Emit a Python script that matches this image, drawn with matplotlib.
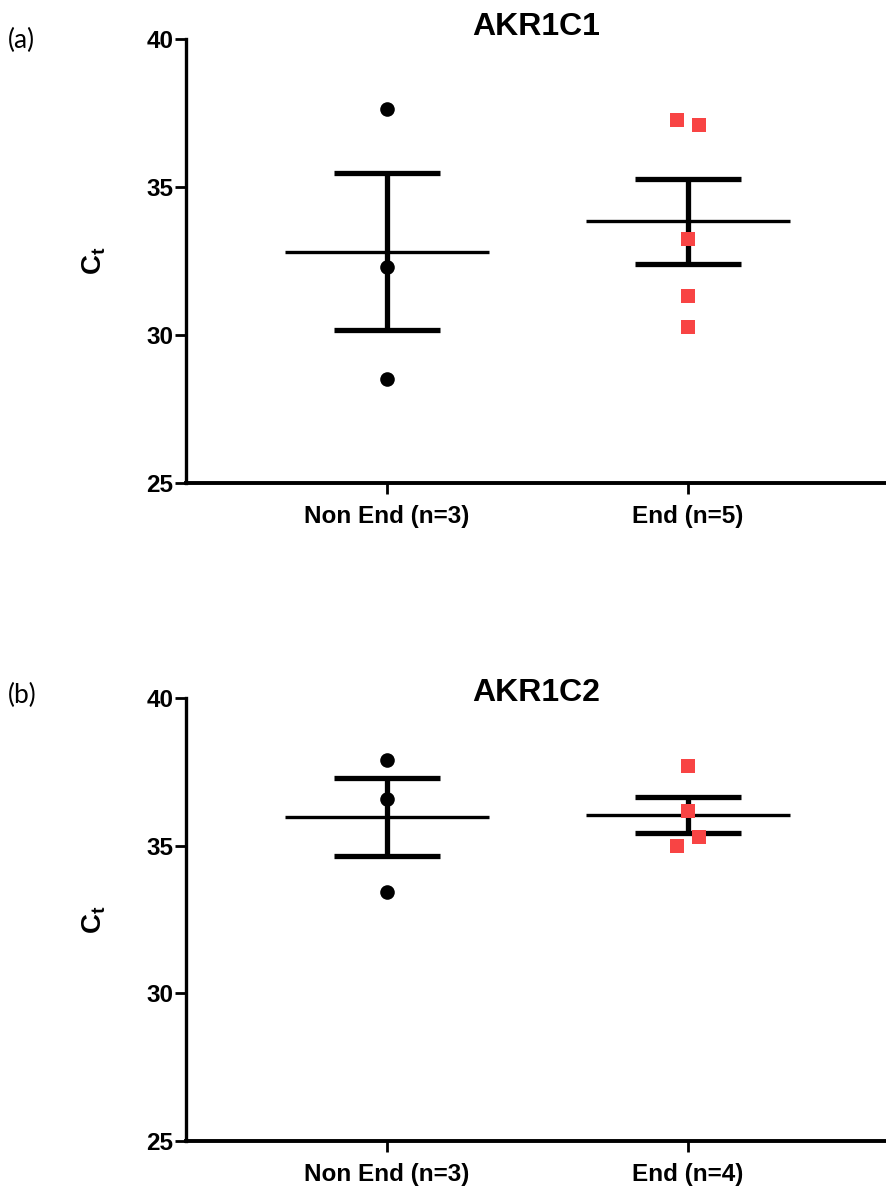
import numpy as np
import matplotlib
matplotlib.use('Agg')
import matplotlib.pyplot as plt

plt.rcParams['font.family'] = ['Liberation Sans', 'DejaVu Sans']
plt.rcParams['mathtext.fontset'] = 'custom'
plt.rcParams['mathtext.bf'] = 'Liberation Sans:weight=bold'
plt.rcParams['mathtext.rm'] = 'Liberation Sans'

# data (Ct values)
genes = ['AKR1C1', 'AKR1C2']
panel_tags = ['(a)', '(b)']
non_end_a = [37.64, 32.29, 28.51]
end_a = [37.26, 37.09, 33.25, 31.32, 30.28]
non_end_b = [37.90, 36.57, 33.42]
end_b = [37.71, 36.18, 35.00, 35.28]
group_names = ['Non End', 'End']
y_ticks = [25, 30, 35, 40]

RED = '#F84444'


def jitter(vals, thresh=0.5, step=0.035):
    # spread points that would overlap, first in list goes left
    off = np.zeros(len(vals))
    used = set()
    for i in range(len(vals)):
        if i in used:
            continue
        for j in range(i + 1, len(vals)):
            if j not in used and abs(vals[i] - vals[j]) < thresh:
                off[i] = -step
                off[j] = step
                used.update([i, j])
                break
    return off


def draw_panel(ax, gene, groups):
    for k, (vals, color, mk) in enumerate(groups):
        vals = np.array(vals)
        m = vals.mean()
        sem = vals.std(ddof=1) / np.sqrt(len(vals))
        ax.errorbar([k], [m], yerr=[sem], fmt='none', ecolor='black',
                    elinewidth=3.8, capsize=38, capthick=3.8, zorder=2)
        ax.hlines(m, k - 0.338, k + 0.338, color='black', lw=2.4, zorder=2)
        ax.plot(k + jitter(vals), vals, linestyle='none', marker=mk,
                color=color, markersize=10.5, markeredgewidth=0, zorder=3)

    ax.set_xlim(-0.668, 1.658)
    ax.set_ylim(25, 40)
    ax.set_yticks(y_ticks)
    ax.set_xticks([0, 1])
    ax.set_xticklabels(['%s (n=%d)' % (name, len(g[0]))
                        for name, g in zip(group_names, groups)])
    for s in ['top', 'right']:
        ax.spines[s].set_visible(False)
    ax.spines['left'].set_linewidth(2.4)
    ax.spines['bottom'].set_linewidth(2.8)
    ax.tick_params(axis='both', direction='out', length=8, width=2,
                   labelsize=17.5)
    ax.tick_params(axis='x', pad=8)
    ax.tick_params(axis='y', pad=1)
    for t in ax.get_xticklabels() + ax.get_yticklabels():
        t.set_fontweight('bold')
    ax.set_ylabel(r'C$_{\mathbf{t}}$', fontsize=20, fontweight='bold')
    ax.yaxis.set_label_coords(-0.112, 0.5)


fig = plt.figure(figsize=(8.86, 11.86), dpi=100)
ax1 = fig.add_axes([0.2099, 0.5927, 0.7901, 0.3744])
ax2 = fig.add_axes([0.2099, 0.0379, 0.7901, 0.3736])

draw_panel(ax1, genes[0], [(non_end_a, 'black', 'o'), (end_a, RED, 's')])
draw_panel(ax2, genes[1], [(non_end_b, 'black', 'o'), (end_b, RED, 's')])

ax1.text(0.5, 1.028, genes[0], transform=ax1.transAxes, ha='center',
         va='center', fontsize=23, fontweight='bold')
ax2.text(0.5, 1.012, genes[1], transform=ax2.transAxes, ha='center',
         va='center', fontsize=23, fontweight='bold')

fig.text(8 / 886, 1 - 40 / 1186, panel_tags[0], fontsize=19,
         family=['Lato', 'DejaVu Sans'], va='center', ha='left')
fig.text(8 / 886, 1 - 695 / 1186, panel_tags[1], fontsize=19,
         family=['Lato', 'DejaVu Sans'], va='center', ha='left')

fig.savefig('out.png', dpi=100)
